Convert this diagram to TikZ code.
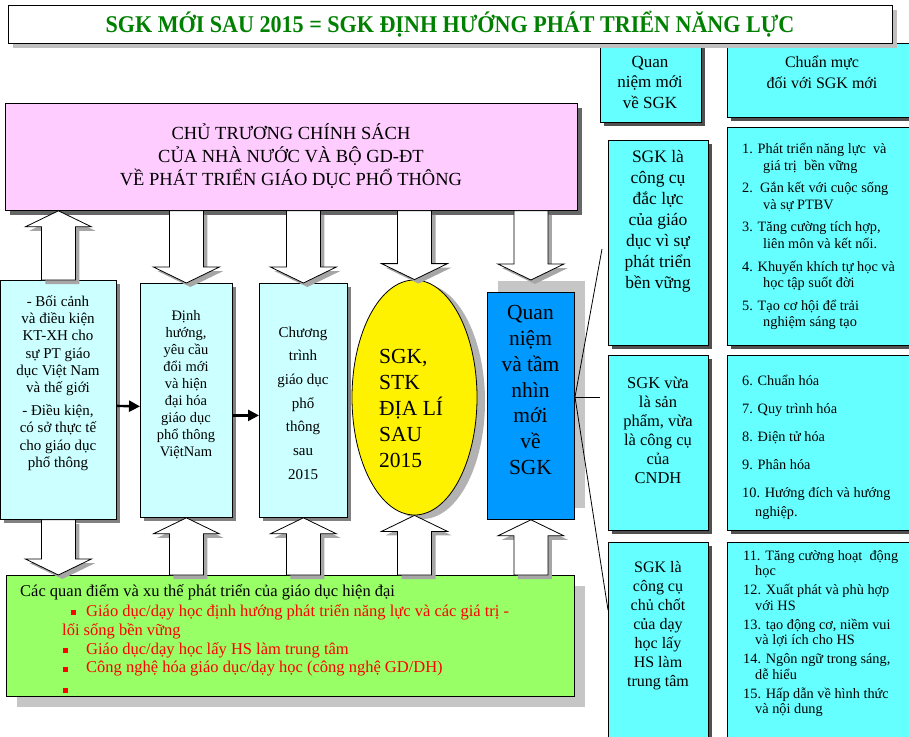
\documentclass[tikz,border=0pt]{standalone}
\usepackage{fontspec}
\setmainfont{Liberation Serif}
\usepackage{graphicx}
\usetikzlibrary{arrows.meta,shadows,shapes.geometric,calc,positioning}

\definecolor{policyPink}{RGB}{255,204,255}
\definecolor{paleCyan}{RGB}{204,255,255}
\definecolor{brightCyan}{RGB}{102,255,255}
\definecolor{skyBlue}{RGB}{0,153,255}
\definecolor{trendGreen}{RGB}{153,255,102}
\definecolor{titleGreen}{RGB}{0,128,0}
\definecolor{darkShade}{RGB}{80,80,80}

\newcommand{\fsz}[2]{\fontsize{#1}{#2}\selectfont}

% white block arrow with grey shadow, tail #1, tip #2 (vertical)
\newcommand{\blockarrow}[2]{%
  \fill[arrowShade] let \p1=#1, \p2=#2, \n1={sign(\y2-\y1)} in
    ({\x1-13pt},{\y1-4pt}) -- ({\x1-13pt},{\y2-16pt*(\n1)-4pt}) -- ({\x1-29pt},{\y2-16pt*(\n1)-4pt})
    -- ({\x1+4pt},{\y2-4pt}) -- ({\x1+37pt},{\y2-16pt*(\n1)-4pt}) -- ({\x1+21pt},{\y2-16pt*(\n1)-4pt})
    -- ({\x1+21pt},{\y1-4pt}) -- cycle;
  \draw[blockArrow] let \p1=#1, \p2=#2, \n1={sign(\y2-\y1)} in
    ({\x1-17pt},\y1) -- ({\x1-17pt},{\y2-16pt*(\n1)}) -- ({\x1-33pt},{\y2-16pt*(\n1)})
    -- (\x1,\y2) -- ({\x1+33pt},{\y2-16pt*(\n1)}) -- ({\x1+17pt},{\y2-16pt*(\n1)})
    -- ({\x1+17pt},\y1) -- cycle;}

\begin{document}
\begin{tikzpicture}[x=1pt,y=-1pt,
    box/.style={draw=black, line width=0.8pt, inner sep=0pt, anchor=north west},
    paleBox/.style={box, fill=paleCyan, drop shadow={shadow xshift=3.5pt, shadow yshift=-3.5pt, fill=gray, opacity=1}},
    cyanBox/.style={box, fill=brightCyan, drop shadow={shadow xshift=3.5pt, shadow yshift=-3.5pt, fill=darkShade, opacity=1}},
    txt/.style={inner sep=0pt, align=center},
    listTxt/.style={inner sep=0pt, align=left, anchor=west},
    redTxt/.style={inner sep=0pt, anchor=west, text=red, font=\fsz{16.5}{19}},
    bullet/.style={fill=red, minimum size=5pt, inner sep=0pt},
    linkArrow/.style={line width=2.4pt, -{Triangle[length=11pt,width=11pt]}},
    blockArrow/.style={draw=black, line width=0.8pt, fill=white},
    arrowShade/.style={fill=gray!70},
    thinLine/.style={draw=black, line width=0.8pt}]

  \useasboundingbox (0,0) rectangle (909,736);
  \clip (0,0) rectangle (909,736);

  % Headings of the right column
  \node[cyanBox, minimum width=101pt, minimum height=79pt] (newView) at (600,43) {};
  \node[cyanBox, minimum width=190pt, minimum height=74pt] (normHead) at (727,43) {};
  \node[txt, font=\fsz{17}{20.5}] (newViewText) at (650,82) {Quan\\niệm mới\\về SGK};
  \node[txt, font=\fsz{16}{21}] (normHeadText) at (822,72) {Chuẩn mực\\đối với SGK mới};

  % Title
  \node[box, fill=white, minimum width=884pt, minimum height=38pt,
        drop shadow={shadow xshift=5pt, shadow yshift=-5pt, fill=gray!50, opacity=1}] (heading) at (8,5) {};
  \node[txt, font=\fsz{24}{26}\bfseries, text=titleGreen] (headingText) at (450,24)
    {\scalebox{0.92}[1]{SGK MỚI SAU 2015 = SGK ĐỊNH HƯỚNG PHÁT TRIỂN NĂNG LỰC}};

  % Policy
  \node[box, fill=policyPink, minimum width=572pt, minimum height=107pt,
        drop shadow={shadow xshift=5pt, shadow yshift=-5pt, fill=gray!80!black, opacity=1}] (policy) at (5,103) {};
  \node[txt, font=\fsz{18.5}{23}] (policyText) at (291,156)
    {CHỦ TRƯƠNG CHÍNH SÁCH\\CỦA NHÀ NƯỚC VÀ BỘ GD-ĐT\\VỀ PHÁT TRIỂN GIÁO DỤC PHỔ THÔNG};

  % Middle row
  \node[paleBox, minimum width=116pt, minimum height=239pt] (context) at (0,280) {};
  \node[paleBox, minimum width=92pt, minimum height=234pt] (orient) at (140,283) {};
  \node[paleBox, minimum width=88pt, minimum height=234pt] (program) at (259,283) {};
  \node[ellipse, draw=black, line width=0.8pt, fill=yellow, minimum width=125pt, minimum height=235pt, inner sep=0pt,
        drop shadow={shadow xshift=8pt, shadow yshift=-4pt, fill=gray!60, opacity=1}] (book) at (414.5,397.5) {};
  \node[box, fill=skyBlue, minimum width=87pt, minimum height=227pt,
        drop shadow={shadow xshift=11pt, shadow yshift=11pt, fill=gray!45, opacity=1}] (vision) at (487,292) {};

  \node[txt, font=\fsz{15}{17.2}] (contextText) at (58,383)
    {- Bối cảnh\\và điều kiện\\KT-XH cho\\sự PT giáo\\dục Việt Nam\\và thế giới\\[6pt]- Điều kiện,\\có sở thực tế\\cho giáo dục\\phổ thông};
  \node[txt, font=\fsz{14.5}{17}] (orientText) at (186,385)
    {Định\\hướng,\\yêu cầu\\đổi mới\\và hiện\\đại hóa\\giáo dục\\phổ thông\\ViệtNam};
  \node[txt, font=\fsz{15}{23.7}] (programText) at (303,403)
    {Chương\\trình\\giáo dục\\phổ\\thông\\sau\\2015};
  \node[listTxt, font=\fsz{21.5}{25.8}] (bookText) at (379,408.5) {SGK,\\STK\\ĐỊA LÍ\\SAU\\2015};
  \node[txt, font=\fsz{21.5}{25.7}] (visionText) at (530.5,390) {Quan\\niệm\\và tầm\\nhìn\\mới\\về\\SGK};

  % Right column
  \node[cyanBox, minimum width=100pt, minimum height=205pt] (toolA) at (608,140) {};
  \node[cyanBox, minimum width=100pt, minimum height=175pt] (toolB) at (608,355) {};
  \node[cyanBox, minimum width=100pt, minimum height=220pt] (toolC) at (608,542) {};
  \node[cyanBox, minimum width=190pt, minimum height=218pt] (normA) at (727,127) {};
  \node[cyanBox, minimum width=190pt, minimum height=175pt] (normB) at (727,355) {};
  \node[cyanBox, minimum width=190pt, minimum height=220pt] (normC) at (727,542) {};

  \node[txt, font=\fsz{17.5}{21}] (toolAText) at (658,221)
    {SGK là\\công cụ\\đắc lực\\của giáo\\dục vì sự\\phát triển\\bền vững};
  \node[txt, font=\fsz{16.5}{19}] (toolBText) at (658,430)
    {SGK vừa\\là sản\\phẩm, vừa\\là công cụ\\của\\CNDH};
  \node[txt, font=\fsz{16}{19}] (toolCText) at (658,626)
    {SGK là\\công cụ\\chủ chốt\\của dạy\\học lấy\\HS làm\\trung tâm};

  \node[listTxt, font=\fsz{14.3}{16.3}] (normAText) at (742,236.5)
    {1. Phát triển năng lực\ \ và\\\hspace*{21pt}giá trị\ \ bền vững\\[6.5pt]
     2.\ \ Gắn kết với cuộc sống\\\hspace*{21pt}và sự PTBV\\[6.5pt]
     3. Tăng cường tích hợp,\\\hspace*{21pt}liên môn và kết nối.\\[6.5pt]
     4. Khuyến khích tự học và\\\hspace*{21pt}học tập suốt đời\\[6.5pt]
     5. Tạo cơ hội để trải\\\hspace*{21pt}nghiệm sáng tạo};
  \node[listTxt, font=\fsz{14.3}{19}] (normBText) at (742,447)
    {6. Chuẩn hóa\\[9pt]7. Quy trình hóa\\[9pt]8. Điện tử hóa\\[9pt]9. Phân hóa\\[9pt]
     10. Hướng đích và hướng\\\hspace*{13pt}nghiệp.};
  \node[listTxt, font=\fsz{14.3}{15.6}] (normCText) at (743,633.5)
    {11. Tăng cường hoạt\ \ động\\\hspace*{12pt}học\\[3.3pt]
     12. Xuất phát và phù hợp\\\hspace*{12pt}với HS\\[3.3pt]
     13. tạo động cơ, niềm vui\\\hspace*{12pt}và lợi ích cho HS\\[3.3pt]
     14. Ngôn ngữ trong sáng,\\\hspace*{12pt}dễ hiểu\\[3.3pt]
     15. Hấp dẫn về hình thức\\\hspace*{12pt}và nội dung};

  % Trends
  \node[box, fill=trendGreen, minimum width=568pt, minimum height=121pt,
        drop shadow={shadow xshift=11pt, shadow yshift=-11pt, fill=gray!45, opacity=1}] (trends) at (6,575) {};
  \node[inner sep=0pt, anchor=west, font=\fsz{16.5}{19}] (trendHead) at (20,592)
    {Các quan điểm và xu thế phát triển của giáo dục hiện đại};
  \node[redTxt] (trendA) at (86,612) {Giáo dục/dạy học định hướng phát triển năng lực và các giá trị -};
  \node[redTxt] (trendAcont) at (62,631) {lối sống bền vững};
  \node[redTxt] (trendB) at (86,650) {Giáo dục/dạy học lấy HS làm trung tâm};
  \node[redTxt] (trendC) at (86,669) {Công nghệ hóa giáo dục/dạy học (công nghệ GD/DH)};
  \foreach \bx/\by [count=\i] in {73/612, 65/650, 65/669, 65/690}
    \node[bullet] (dot\i) at (\bx,\by) {};

  % Block arrows
  \blockarrow{(context.north)}{(context.north |- policy.south)}
  \blockarrow{(policy.south -| orient.north)}{(orient.north)}
  \blockarrow{(policy.south -| program.north)}{(program.north)}
  \blockarrow{(policy.south -| book.north)}{(book.north)}
  \blockarrow{(policy.south -| vision.north)}{([yshift=12pt]vision.north)}
  \blockarrow{(context.south)}{(context.south |- trends.north)}
  \blockarrow{(trends.north -| orient.south)}{(orient.south)}
  \blockarrow{(trends.north -| program.south)}{(program.south)}
  \blockarrow{(trends.north -| book.south)}{(book.south)}
  \blockarrow{(trends.north -| vision.south)}{(vision.south)}

  % Links between the boxes
  \draw[linkArrow] ([yshift=-6pt]context.east) -- ([yshift=-6pt]orient.west);
  \draw[linkArrow] ([yshift=-15pt]orient.east) -- ([yshift=-15pt]program.west);

  \coordinate (hub) at (575,397);
  \coordinate (hubA) at (602,249);
  \coordinate (hubB) at (600,397);
  \draw[thinLine] (hubA) -- (hub) -- (toolC.west |- 0,610);
  \draw[thinLine] (hub) -- (hubB);
\end{tikzpicture}
\end{document}
